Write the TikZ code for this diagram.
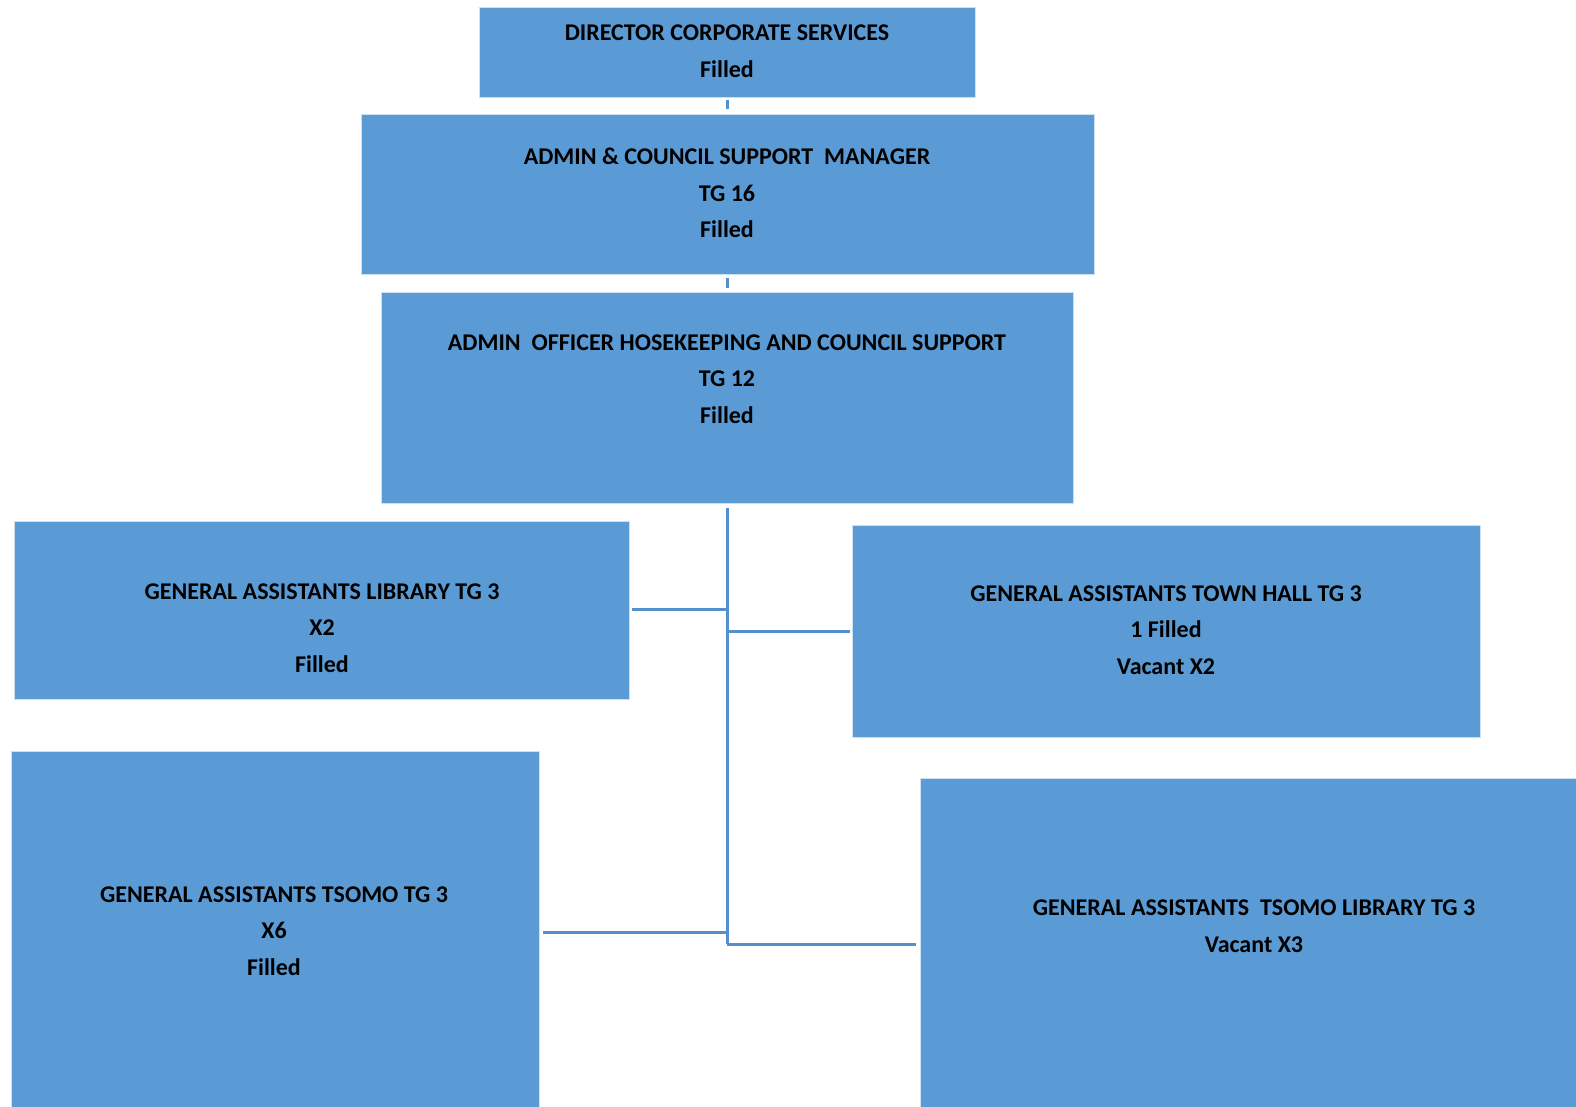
\documentclass[tikz,border=0pt]{standalone}
\usepackage{fontspec}
\setmainfont{Carlito}
\definecolor{boxblue}{HTML}{5B9BD5}
\definecolor{linkblue}{HTML}{5590CB}
\begin{document}
\begin{tikzpicture}[x=1pt,y=-1pt,
  post/.style={fill=boxblue,draw=white!70!boxblue,line width=0.8pt},
  caption/.style={align=center,text=black,font=\fontsize{24}{36.7}\selectfont\bfseries,inner sep=0pt},
  link/.style={draw=linkblue,line width=3pt}]
\useasboundingbox[fill=white] (0,0) rectangle (1576,1107);

% boxes
\path[post] (479,7) rectangle (975,97);
\path[post] (361,114) rectangle (1094,274);
\path[post] (381,292) rectangle (1073,503);
\path[post] (14,521) rectangle (629,699);
\path[post] (852,525) rectangle (1480,737);
\path[post] (11,751) rectangle (539,1120);
\path[post] (920,778) rectangle (1590,1120);

% anchor coordinates on the box edges
\coordinate (d1s) at (727,97);
\coordinate (m2n) at (727,114);
\coordinate (m2s) at (727,274);
\coordinate (o3n) at (727,292);
\coordinate (o3s) at (727,508);
\coordinate (lib) at (632,609);
\coordinate (hall) at (850,631);
\coordinate (tso) at (543,932);
\coordinate (tlib) at (916,944);
\coordinate (j1) at (727,609);
\coordinate (j2) at (727,631);
\coordinate (j3) at (727,932);
\coordinate (j4) at (727,944);

% captions
\node[caption] (dir) at (727,51) {DIRECTOR CORPORATE SERVICES\\Filled};
\node[caption] (mgr) at (727,193) {ADMIN \& COUNCIL SUPPORT\ \ MANAGER\\TG 16\\Filled};
\node[caption] (off) at (727,379) {ADMIN\ \ OFFICER HOSEKEEPING AND COUNCIL SUPPORT\\TG 12\\Filled};
\node[caption] (gal) at (322,628) {GENERAL ASSISTANTS LIBRARY TG 3\\X2\\Filled};
\node[caption] (gat) at (1166,630) {GENERAL ASSISTANTS TOWN HALL TG 3\\1 Filled\\Vacant X2};
\node[caption] (gas) at (274,931) {GENERAL ASSISTANTS TSOMO TG 3\\X6\\Filled};
\node[caption] (gasl) at (1254,926) {GENERAL ASSISTANTS\ \ TSOMO LIBRARY TG 3\\Vacant X3};

% connectors
\draw[link,shorten <=3pt,shorten >=5pt] (d1s) -- (m2n);
\draw[link,shorten <=4pt,shorten >=4pt] (m2s) -- (o3n);
\draw[link] (o3s) -- (j4);
\draw[link] (j1) -- (lib);
\draw[link] (j2) -- (hall);
\draw[link] (j3) -- (tso);
\draw[link] (j4) -- (tlib);
\end{tikzpicture}
\end{document}
